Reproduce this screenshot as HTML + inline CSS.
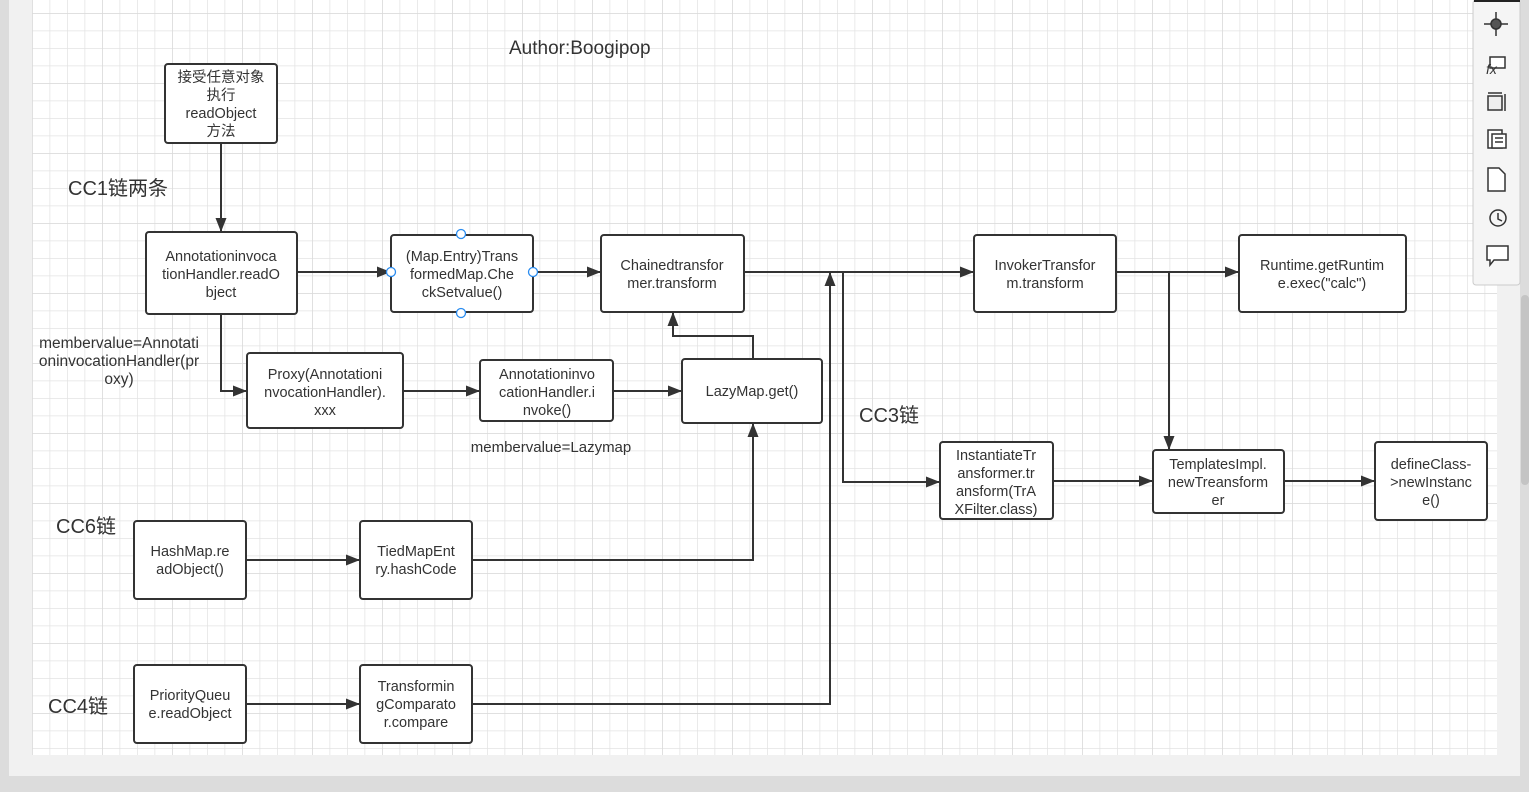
<!DOCTYPE html>
<html><head><meta charset="utf-8"><style>
html,body{margin:0;padding:0;width:1529px;height:792px;overflow:hidden;background:#dcdcdc;}
svg{display:block;}
text{font-family:"Liberation Sans","Noto Sans CJK SC",sans-serif;fill:#333;}
</style></head><body>
<svg width="1529" height="792" viewBox="0 0 1529 792">
<defs>
<pattern id="g" x="32" y="13" width="17.5" height="17.5" patternUnits="userSpaceOnUse">
<path d="M0 0H17.5M0 0V17.5" stroke="#e3e3e3" stroke-width="1.5" fill="none"/>
</pattern>
<pattern id="g2" x="32" y="13" width="70" height="70" patternUnits="userSpaceOnUse">
<path d="M0 0H70M0 0V70" stroke="#dadada" stroke-width="1.5" fill="none"/>
</pattern>
<marker id="a" markerWidth="14" markerHeight="12" refX="13" refY="6" orient="auto" markerUnits="userSpaceOnUse">
<path d="M0 0.5L14 6L0 11.5z" fill="#333"/>
</marker>
</defs>
<rect x="0" y="0" width="1529" height="792" fill="#dcdcdc"/>
<rect x="9" y="0" width="1511" height="776" fill="#f1f1f1"/>
<rect x="32" y="0" width="1465" height="755" fill="#fff"/>
<rect x="32" y="0" width="1465" height="755" fill="url(#g)"/>
<rect x="32" y="0" width="1465" height="755" fill="url(#g2)"/>
<rect x="1521" y="295" width="8" height="190" rx="4" fill="#c4c4c4"/>
<!-- toolbar -->
<rect x="1473" y="0" width="47" height="285" rx="3" fill="#f5f5f5" stroke="#ccc"/>
<rect x="1474" y="0" width="46" height="2" fill="#222"/>
<g fill="none" stroke="#333" stroke-width="1.5">
<path d="M1496 12V36M1484 24H1508"/><circle cx="1496" cy="24" r="5" fill="#555"/>
<rect x="1490" y="57" width="15" height="11" fill="#fff"/>
<rect x="1488" y="96" width="14" height="14" fill="#eee"/><path d="M1505 94V111M1488 93H1502"/>
<rect x="1488" y="130" width="14" height="18" fill="#fff"/><rect x="1492" y="134" width="14" height="14" fill="#fff"/><path d="M1495 138H1503M1495 142H1503"/>
<path d="M1488 168H1499L1505 174V191H1488Z" fill="#fff"/>
<circle cx="1498" cy="218" r="8"/><path d="M1498 213V219L1502 221"/>
<path d="M1487 246H1508V260H1494L1490 265V260H1487Z" fill="#fff"/>
</g>
<text x="1486" y="74" font-size="14" font-style="italic" font-family="Liberation Serif">fx</text>
<g fill="#fff" stroke="#333" stroke-width="2">
<rect x="165" y="64" width="112" height="79" rx="3"/>
<rect x="146" y="232" width="151" height="82" rx="3"/>
<rect x="391" y="235" width="142" height="77" rx="3"/>
<rect x="601" y="235" width="143" height="77" rx="3"/>
<rect x="974" y="235" width="142" height="77" rx="3"/>
<rect x="1239" y="235" width="167" height="77" rx="3"/>
<rect x="247" y="353" width="156" height="75" rx="3"/>
<rect x="480" y="360" width="133" height="61" rx="3"/>
<rect x="682" y="359" width="140" height="64" rx="3"/>
<rect x="940" y="442" width="113" height="77" rx="3"/>
<rect x="1153" y="450" width="131" height="63" rx="3"/>
<rect x="1375" y="442" width="112" height="78" rx="3"/>
<rect x="134" y="521" width="112" height="78" rx="3"/>
<rect x="360" y="521" width="112" height="78" rx="3"/>
<rect x="134" y="665" width="112" height="78" rx="3"/>
<rect x="360" y="665" width="112" height="78" rx="3"/>
</g>
<g fill="none" stroke="#333" stroke-width="2" marker-end="url(#a)">
<path d="M221 143V231"/>
<path d="M297 272H390"/>
<path d="M533 272H600"/>
<path d="M744 272H973"/>
<path d="M843 272V482H939"/>
<path d="M1116 272H1238"/>
<path d="M1169 272V449"/>
<path d="M1053 481H1152"/>
<path d="M1284 481H1374"/>
<path d="M221 314V391H246"/>
<path d="M403 391H479"/>
<path d="M613 391H681"/>
<path d="M753 359V336H673V313"/>
<path d="M472 560H753V424"/>
<path d="M246 560H359"/>
<path d="M246 704H359"/>
<path d="M472 704H830V273"/>
</g>
<g fill="#fff" stroke="#2a8cf0" stroke-width="1.3">
<circle cx="461" cy="234" r="4.5"/><circle cx="461" cy="313" r="4.5"/>
<circle cx="391" cy="272" r="4.5"/><circle cx="533" cy="272" r="4.5"/>
</g>
<g font-size="14.5" text-anchor="middle">
<text x="221" y="82">接受任意对象<tspan x="221" dy="18">执行</tspan><tspan x="221" dy="18">readObject</tspan><tspan x="221" dy="18">方法</tspan></text>
<text x="221" y="261">Annotationinvoca<tspan x="221" dy="18">tionHandler.readO</tspan><tspan x="221" dy="18">bject</tspan></text>
<text x="462" y="261">(Map.Entry)Trans<tspan x="462" dy="18">formedMap.Che</tspan><tspan x="462" dy="18">ckSetvalue()</tspan></text>
<text x="672" y="270">Chainedtransfor<tspan x="672" dy="18">mer.transform</tspan></text>
<text x="1045" y="270">InvokerTransfor<tspan x="1045" dy="18">m.transform</tspan></text>
<text x="1322" y="270">Runtime.getRuntim<tspan x="1322" dy="18">e.exec("calc")</tspan></text>
<text x="325" y="379">Proxy(Annotationi<tspan x="325" dy="18">nvocationHandler).</tspan><tspan x="325" dy="18">xxx</tspan></text>
<text x="547" y="379">Annotationinvo<tspan x="547" dy="18">cationHandler.i</tspan><tspan x="547" dy="18">nvoke()</tspan></text>
<text x="752" y="396">LazyMap.get()</text>
<text x="996" y="460">InstantiateTr<tspan x="996" dy="18">ansformer.tr</tspan><tspan x="996" dy="18">ansform(TrA</tspan><tspan x="996" dy="18">XFilter.class)</tspan></text>
<text x="1218" y="469">TemplatesImpl.<tspan x="1218" dy="18">newTreansform</tspan><tspan x="1218" dy="18">er</tspan></text>
<text x="1431" y="469">defineClass-<tspan x="1431" dy="18">&gt;newInstanc</tspan><tspan x="1431" dy="18">e()</tspan></text>
<text x="190" y="556">HashMap.re<tspan x="190" dy="18">adObject()</tspan></text>
<text x="416" y="556">TiedMapEnt<tspan x="416" dy="18">ry.hashCode</tspan></text>
<text x="190" y="700">PriorityQueu<tspan x="190" dy="18">e.readObject</tspan></text>
<text x="416" y="691">Transformin<tspan x="416" dy="18">gComparato</tspan><tspan x="416" dy="18">r.compare</tspan></text>
<text x="119" y="348" font-size="15.5">membervalue=Annotati<tspan x="119" dy="18">oninvocationHandler(pr</tspan><tspan x="119" dy="18">oxy)</tspan></text>
<text x="551" y="452" font-size="15">membervalue=Lazymap</text>
</g>
<g font-size="20">
<text x="509" y="54" font-size="19">Author:Boogipop</text>
<text x="68" y="195">CC1链两条</text>
<text x="859" y="422">CC3链</text>
<text x="56" y="533">CC6链</text>
<text x="48" y="713">CC4链</text>
</g>
</svg>
</body></html>
